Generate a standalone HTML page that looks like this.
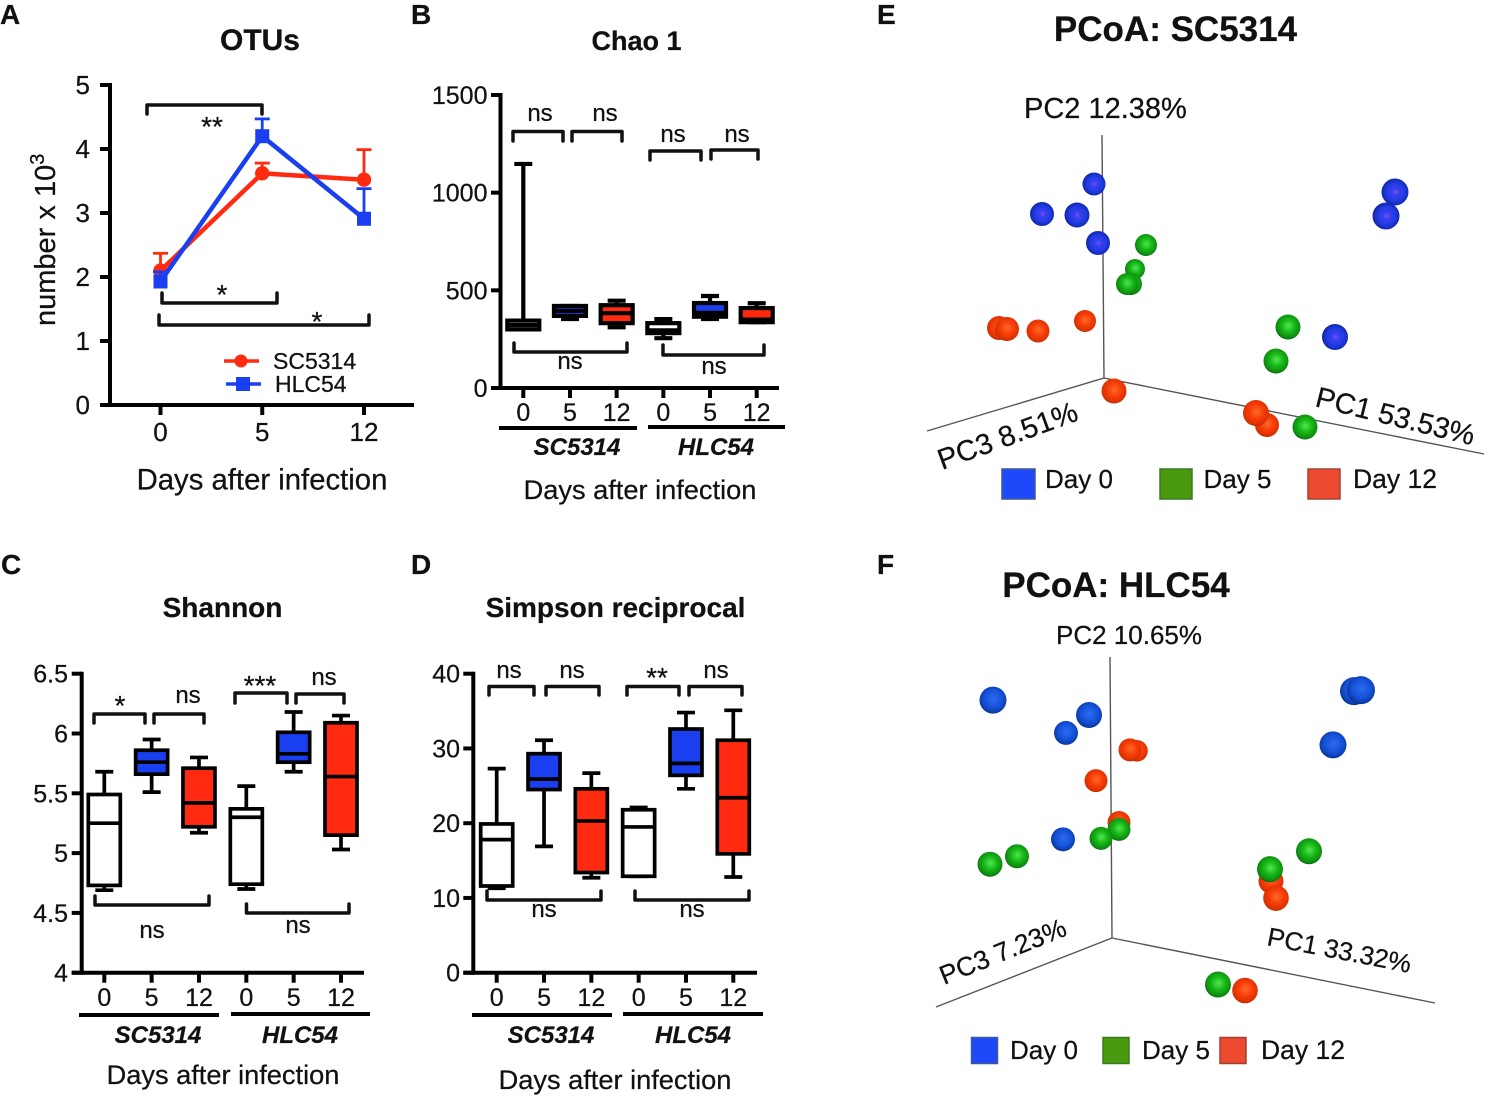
<!DOCTYPE html>
<html lang="en">
<head>
<meta charset="utf-8">
<title>Microbiome diversity panels</title>
<style>
  html, body { margin: 0; padding: 0; background: #fff; }
  svg { display: block; font-family: "Liberation Sans", sans-serif; }
  text { fill: #111; stroke: #111; stroke-width: 0.25; }
  .axis { stroke: #000; stroke-width: 4; fill: none; }
  .br { stroke: #111; stroke-width: 3.5; fill: none; stroke-linecap: round; stroke-linejoin: round; }
  .title { font-weight: bold; text-anchor: middle; }
  .letter { font-weight: bold; font-size: 28px; }
  .ns { font-size: 24px; text-anchor: middle; }
  .star { font-size: 28px; text-anchor: middle; }
  .group { font-size: 24px; font-weight: bold; font-style: italic; text-anchor: middle; }
  .xl { font-size: 27.2px; text-anchor: middle; }
  .pc { stroke: #555; stroke-width: 1.4; }
</style>
</head>
<body>
<svg id="figure" xmlns="http://www.w3.org/2000/svg" width="1493" height="1105" viewBox="0 0 1493 1105">
  <defs>
    <radialGradient id="sphere-blue-e" cx="0.52" cy="0.5" r="0.55">
      <stop offset="0" stop-color="#7a50e8"/><stop offset="0.22" stop-color="#3a40f0"/><stop offset="0.62" stop-color="#1f3ae0"/><stop offset="0.9" stop-color="#1426b0"/><stop offset="1" stop-color="#0c1460"/>
    </radialGradient>
    <radialGradient id="sphere-blue-f" cx="0.52" cy="0.45" r="0.58">
      <stop offset="0" stop-color="#2a6cf0"/><stop offset="0.6" stop-color="#1450d8"/><stop offset="0.9" stop-color="#0c3aa0"/><stop offset="1" stop-color="#082058"/>
    </radialGradient>
    <radialGradient id="sphere-green" cx="0.52" cy="0.45" r="0.58">
      <stop offset="0" stop-color="#50e850"/><stop offset="0.45" stop-color="#18b818"/><stop offset="0.85" stop-color="#0c8a10"/><stop offset="1" stop-color="#064a08"/>
    </radialGradient>
    <radialGradient id="sphere-red" cx="0.52" cy="0.45" r="0.58">
      <stop offset="0" stop-color="#ff6a28"/><stop offset="0.5" stop-color="#f63c08"/><stop offset="0.88" stop-color="#d83000"/><stop offset="1" stop-color="#802000"/>
    </radialGradient>
  </defs>

  <text class="letter" x="0" y="24">A</text>
  <text class="letter" x="411" y="24">B</text>
  <text class="letter" x="1" y="574">C</text>
  <text class="letter" x="411" y="574">D</text>
  <text class="letter" x="877" y="24">E</text>
  <text class="letter" x="877" y="574">F</text>

  <!-- Panel A -->
  <g id="panel-a">
    <text class="title" x="260" y="50" font-size="30">OTUs</text>
    <text transform="translate(55,326) rotate(-90)" font-size="29">number x 10<tspan font-size="20" dy="-11">3</tspan></text>
    <text x="262" y="489.500" font-size="29.300" text-anchor="middle">Days after infection</text>
    <path class="br" d="M147 114V105H262V114"/>
    <text class="star" x="212" y="136">**</text>
    <path class="br" d="M162 293V303H277V293"/>
    <text class="star" x="222" y="304">*</text>
    <path class="br" d="M159 315V325H369V315"/>
    <text class="star" x="317" y="331">*</text>
    <g>
      <line x1="224" y1="361" x2="259" y2="361" stroke="#ff2a10" stroke-width="3.5"/>
      <circle cx="241" cy="361" r="6.5" fill="#ff2a10"/>
      <text x="273" y="369" font-size="23">SC5314</text>
      <line x1="226" y1="384" x2="261" y2="384" stroke="#1a3ff0" stroke-width="3.5"/>
      <rect x="236" y="377" width="14" height="14" fill="#1a3ff0"/>
      <text x="275" y="392" font-size="23">HLC54</text>
    </g>
  </g>

  <!-- Panel B -->
  <g id="panel-b">
    <text class="title" x="636.500" y="50" font-size="27">Chao 1</text>
    <text class="xl" x="640" y="499">Days after infection</text>
    <line class="axis" x1="499" y1="428" x2="637" y2="428"/>
    <line class="axis" x1="648" y1="427" x2="785" y2="427"/>
    <text class="group" x="577" y="455">SC5314</text>
    <text class="group" x="716" y="455">HLC54</text>
    <path class="br" d="M513 141V131.500H563V141"/>
    <path class="br" d="M572 141V131.500H622V141"/>
    <path class="br" d="M650 160V151H701V160"/>
    <path class="br" d="M711 159V150H758V159"/>
    <path class="br" d="M514 343V352H627V343"/>
    <path class="br" d="M663 345V355H764V345"/>
    <text class="ns" x="540" y="121">ns</text>
    <text class="ns" x="605" y="121">ns</text>
    <text class="ns" x="673" y="142">ns</text>
    <text class="ns" x="737" y="142">ns</text>
    <text class="ns" x="570" y="369">ns</text>
    <text class="ns" x="714" y="374">ns</text>
  </g>

  <!-- Panel C -->
  <g id="panel-c">
    <text class="title" x="222.500" y="617" font-size="28">Shannon</text>
    <text class="xl" x="223" y="1084">Days after infection</text>
    <line class="axis" x1="79" y1="1015" x2="219" y2="1015"/>
    <line class="axis" x1="231" y1="1014" x2="370" y2="1014"/>
    <text class="group" x="158" y="1043">SC5314</text>
    <text class="group" x="300" y="1043">HLC54</text>
    <path class="br" d="M94 723V714H145V723"/>
    <path class="br" d="M154 723V714H204V723"/>
    <path class="br" d="M235 703V693H287V703"/>
    <path class="br" d="M296 703V694H344V703"/>
    <path class="br" d="M95 896V905H209V896"/>
    <path class="br" d="M246.500 904V913H349V904"/>
    <text class="star" x="120" y="715">*</text>
    <text class="star" x="260" y="695">***</text>
    <text class="ns" x="188" y="703">ns</text>
    <text class="ns" x="324" y="685">ns</text>
    <text class="ns" x="152" y="938">ns</text>
    <text class="ns" x="298" y="933">ns</text>
  </g>

  <!-- Panel D -->
  <g id="panel-d">
    <text class="title" x="615.500" y="617" font-size="28">Simpson reciprocal</text>
    <text class="xl" x="615" y="1089">Days after infection</text>
    <line class="axis" x1="472" y1="1015" x2="612" y2="1015"/>
    <line class="axis" x1="623" y1="1014" x2="763" y2="1014"/>
    <text class="group" x="551" y="1043">SC5314</text>
    <text class="group" x="693" y="1043">HLC54</text>
    <path class="br" d="M489 695V686.500H534V695"/>
    <path class="br" d="M546 695V686.500H599V695"/>
    <path class="br" d="M627 695V686.500H679V695"/>
    <path class="br" d="M689 695V686.500H742V695"/>
    <path class="br" d="M487 891V900H601V891"/>
    <path class="br" d="M635 891V900H749V891"/>
    <text class="star" x="657" y="687">**</text>
    <text class="ns" x="509" y="678">ns</text>
    <text class="ns" x="572" y="678">ns</text>
    <text class="ns" x="716" y="678">ns</text>
    <text class="ns" x="544" y="917">ns</text>
    <text class="ns" x="692" y="917">ns</text>
  </g>

  <!-- Panel E -->
  <g id="panel-e">
    <text class="title" x="1175.500" y="41" font-size="35">PCoA: SC5314</text>
    <line class="pc" x1="1102" y1="135" x2="1104" y2="378"/>
    <line class="pc" x1="1104" y1="378" x2="927" y2="431"/>
    <line class="pc" x1="1104" y1="378" x2="1484" y2="454"/>
    <text x="1024" y="118" font-size="29">PC2 12.38%</text>
    <text transform="translate(942,470) rotate(-20)" font-size="29">PC3 8.51%</text>
    <text transform="translate(1314,406) rotate(14)" font-size="29">PC1 53.53%</text>
    <g>
      <rect x="1002" y="469" width="33" height="30" fill="#1f48f8" stroke="#3a5a9a" stroke-width="1.500"/>
      <rect x="1160" y="469" width="32" height="30" fill="#4a9a10" stroke="#3a7a20" stroke-width="1.500"/>
      <rect x="1308" y="469" width="32" height="30" fill="#ee4a30" stroke="#a04030" stroke-width="1.500"/>
      <text x="1045" y="488" font-size="26">Day 0</text>
      <text x="1203.500" y="488" font-size="26">Day 5</text>
      <text x="1353" y="488" font-size="26.500">Day 12</text>
    </g>
  </g>

  <!-- Panel F -->
  <g id="panel-f">
    <text class="title" x="1116" y="597" font-size="35">PCoA: HLC54</text>
    <line class="pc" x1="1110" y1="657" x2="1112" y2="938"/>
    <line class="pc" x1="1112" y1="938" x2="936" y2="1007"/>
    <line class="pc" x1="1112" y1="938" x2="1435" y2="1003"/>
    <text x="1056" y="644" font-size="26">PC2 10.65%</text>
    <text transform="translate(944,985) rotate(-22)" font-size="26.500">PC3 7.23%</text>
    <text transform="translate(1266,945) rotate(11)" font-size="26">PC1 33.32%</text>
    <g>
      <rect x="971.500" y="1037.500" width="26" height="26" fill="#1f48f8" stroke="#3a5a9a" stroke-width="1.500"/>
      <rect x="1103" y="1037.500" width="26" height="26" fill="#4a9a10" stroke="#3a7a20" stroke-width="1.500"/>
      <rect x="1220" y="1037.500" width="26" height="26" fill="#ee4a30" stroke="#a04030" stroke-width="1.500"/>
      <text x="1010" y="1059" font-size="26">Day 0</text>
      <text x="1142" y="1059" font-size="26">Day 5</text>
      <text x="1261" y="1059" font-size="26.500">Day 12</text>
    </g>
  </g>
</svg>

<script>
/* ---------- Panel A data ---------- */
const otusDays = ["0", "5", "12"];
const otusTicks = [0, 1, 2, 3, 4, 5];
const otusSC5314 = [2.1, 3.62, 3.52];
const otusSC5314Upper = [2.37, 3.78, 3.99];
const otusHLC54 = [1.93, 4.2, 2.91];
const otusHLC54Upper = [2.08, 4.47, 3.38];

/* ---------- Box plot shared categories ---------- */
const boxDays = ["0", "5", "12", "0", "5", "12"];

/* ---------- Panel B data ---------- */
const chaoTicks = [0, 500, 1000, 1500];
const chaoHigh = [1147, 420, 447, 353, 471, 434];
const chaoQ3 = [345, 420, 424, 332, 435, 409];
const chaoMedian = [322, 395, 383, 295, 385, 350];
const chaoQ1 = [300, 369, 332, 281, 365, 337];
const chaoLow = [300, 353, 311, 255, 353, 337];

/* ---------- Panel C data ---------- */
const shannonTicks = ["4", "4.5", "5", "5.5", "6", "6.5"];
const shannonHigh = [5.68, 5.95, 5.80, 5.56, 6.18, 6.15];
const shannonQ3 = [5.49, 5.86, 5.71, 5.37, 6.01, 6.09];
const shannonMedian = [5.25, 5.76, 5.42, 5.30, 5.83, 5.64];
const shannonQ1 = [4.73, 5.66, 5.22, 4.74, 5.76, 5.15];
const shannonLow = [4.69, 5.51, 5.17, 4.70, 5.68, 5.03];

/* ---------- Panel D data ---------- */
const simpsonTicks = [0, 10, 20, 30, 40];
const simpsonHigh = [27.3, 31.1, 26.7, 22.1, 34.8, 35.1];
const simpsonQ3 = [19.9, 29.3, 24.6, 21.8, 32.6, 31.1];
const simpsonMedian = [17.8, 25.9, 20.3, 19.5, 28.0, 23.4];
const simpsonQ1 = [11.6, 24.5, 13.4, 12.9, 26.4, 15.9];
const simpsonLow = [11.3, 16.9, 12.7, 12.9, 24.6, 12.8];

/* ---------- Panel E ordination values (projected PC units; depth drives sphere size) ---------- */
const eRedH = [-52.5, -48.5, -33, -9.5, 5, 81.5, 76];
const eRedV = [25, 24.5, 23.5, 28.5, -6.5, -23.5, -17.5];
const eRedDepth = [20, 20, 15, 10, 25, 20, 30];
const eGreenH = [21, 15.5, 13.5, 11.5, 92, 86, 100.5];
const eGreenV = [66.5, 54.5, 47, 47, 25.5, 8.5, -24.5];
const eGreenDepth = [10, 0, 10, 10, 25, 25, 25];
const eBlueH = [-5, -31, -13.5, -3, 141, 145.5, 115.5];
const eBlueV = [97, 82, 81.5, 67.5, 81, 93, 20.5];
const eBlueDepth = [15, 20, 25, 20, 35, 35, 30];

/* ---------- Panel F ordination values ---------- */
const fRedH = [12.5, 9, -8, 3.5, 79.5, 82, 66.5];
const fRedV = [94, 94.5, 79, 58, 28.5, 20, -26.5];
const fRedDepth = [8, 15, 15, 15, 25, 28, 28];
const fGreenH = [3.5, -5.5, -47.5, -61, 98.5, 79, 53];
const fGreenV = [54.5, 50, 41, 37, 43.5, 34.5, -23.5];
const fGreenDepth = [15, 15, 20, 25, 30, 30, 30];
const fBlueH = [-59.5, -11.5, -23, -24.5, 121, 124.5, 110.5];
const fBlueV = [119.5, 112, 103, 49.5, 124, 124.5, 97];
const fBlueDepth = [35, 30, 20, 20, 40, 40, 35];

/* ---------- Helpers ---------- */
const SVGNS = "http://www.w3.org/2000/svg";

function add(parent, tag, attrs, name, label) {
  const el = document.createElementNS(SVGNS, tag);
  for (const key in attrs) el.setAttribute(key, attrs[key]);
  
  
  if (label !== undefined) el.textContent = label;
  parent.appendChild(el);
  return el;
}

function linear(d0, d1, r0, r1) {
  return v => r0 + (Number(v) - d0) / (d1 - d0) * (r1 - r0);
}

function drawAxes(root, y, x, cats, ticks, geo) {
  const g = add(root, "g", {}, "axes");
  add(g, "line", { class: "axis", x1: geo.axisX, y1: geo.top - 2, x2: geo.axisX, y2: geo.bottom + 2 }, "y-axis-line");
  add(g, "line", { class: "axis", x1: geo.tickLeft, y1: geo.bottom, x2: geo.axisEnd, y2: geo.bottom }, "x-axis-line");
  ticks.forEach(t => {
    add(g, "line", { class: "axis", x1: geo.tickLeft, y1: y(t), x2: geo.axisX, y2: y(t) }, "y-tick");
    add(g, "text", { x: geo.labelRight, y: y(t) + 9, "font-size": geo.tickFont, "text-anchor": "end" }, "y-tick-label", String(t));
  });
  cats.forEach((c, i) => {
    add(g, "line", { class: "axis", x1: x(i), y1: geo.bottom, x2: x(i), y2: geo.bottom + 10 }, "x-tick");
    add(g, "text", { x: x(i), y: geo.xLabelY, "font-size": geo.tickFont, "text-anchor": "middle" }, "x-tick-label", c);
  });
}

function boxFill(index) {
  const day = boxDays[index];
  if (day === "5") return "#1a3ff0";
  if (day === "12") return "#ff2a10";
  return "#ffffff";
}

function drawBoxes(root, y, x, high, q3, median, q1, low, sw) {
  const half = 16;
  const cap = 9;
  boxDays.forEach((day, i) => {
    const g = add(root, "g", {}, "box-" + (i < 3 ? "sc5314" : "hlc54") + "-day" + day);
    add(g, "line", { x1: x(i), y1: y(high[i]), x2: x(i), y2: y(q3[i]), stroke: "#000", "stroke-width": sw }, "whisker-upper");
    add(g, "line", { x1: x(i) - cap, y1: y(high[i]), x2: x(i) + cap, y2: y(high[i]), stroke: "#000", "stroke-width": sw }, "whisker-cap-upper");
    add(g, "line", { x1: x(i), y1: y(q1[i]), x2: x(i), y2: y(low[i]), stroke: "#000", "stroke-width": sw }, "whisker-lower");
    add(g, "line", { x1: x(i) - cap, y1: y(low[i]), x2: x(i) + cap, y2: y(low[i]), stroke: "#000", "stroke-width": sw }, "whisker-cap-lower");
    add(g, "rect", { x: x(i) - half, y: y(q3[i]), width: 2 * half, height: y(q1[i]) - y(q3[i]), fill: boxFill(i), stroke: "#000", "stroke-width": sw }, "box-body");
    add(g, "line", { x1: x(i) - half, y1: y(median[i]), x2: x(i) + half, y2: y(median[i]), stroke: "#000", "stroke-width": sw }, "box-median");
  });
}

function drawSeries(root, y, x, values, upper, color, marker, name) {
  const g = add(root, "g", {}, "series-" + name);
  values.forEach((v, i) => {
    add(g, "line", { x1: x(i), y1: y(v), x2: x(i), y2: y(upper[i]), stroke: color, "stroke-width": 2.8 }, "error-bar");
    add(g, "line", { x1: x(i) - 7.5, y1: y(upper[i]), x2: x(i) + 7.5, y2: y(upper[i]), stroke: color, "stroke-width": 2.8 }, "error-cap");
  });
  const pts = values.map((v, i) => x(i) + "," + y(v)).join(" ");
  add(g, "polyline", { points: pts, fill: "none", stroke: color, "stroke-width": 4.5 }, "series-line");
  values.forEach((v, i) => {
    if (marker === "circle") {
      add(g, "circle", { cx: x(i), cy: y(v), r: 7.2, fill: color }, "point");
    } else {
      add(g, "rect", { x: x(i) - 7, y: y(v) - 7, width: 14, height: 14, fill: color }, "point");
    }
  });
}

function drawSpheres(root, h, v, size, xs, ys, depth, fill, name) {
  const g = add(root, "g", {}, "points-" + name);
  xs.forEach((val, i) => {
    add(g, "circle", { cx: h(val), cy: v(ys[i]), r: size(depth[i]), fill: fill }, "sphere-" + name);
  });
}

/* ---------- Panel A ---------- */
(function () {
  const root = document.getElementById("panel-a");
  const y = linear(0, 5, 405, 85);
  const x = linear(0, 2, 160.5, 364);
  drawAxes(root, y, x, otusDays, otusTicks, { axisX: 110, top: 85, bottom: 405, tickLeft: 100, axisEnd: 414, labelRight: 90, tickFont: 26, xLabelY: 441 });
  drawSeries(root, y, x, otusSC5314, otusSC5314Upper, "#ff2a10", "circle", "sc5314");
  drawSeries(root, y, x, otusHLC54, otusHLC54Upper, "#1a3ff0", "square", "hlc54");
})();

/* ---------- Panel B ---------- */
(function () {
  const root = document.getElementById("panel-b");
  const y = linear(0, 1500, 388, 95);
  const x = linear(0, 5, 523.3, 756.7);
  drawAxes(root, y, x, boxDays, chaoTicks, { axisX: 500.5, top: 95, bottom: 388, tickLeft: 491, axisEnd: 779, labelRight: 487.5, tickFont: 25, xLabelY: 421 });
  drawBoxes(root, y, x, chaoHigh, chaoQ3, chaoMedian, chaoQ1, chaoLow, 4.2);
})();

/* ---------- Panel C ---------- */
(function () {
  const root = document.getElementById("panel-c");
  const y = linear(4, 6.5, 972.7, 673.7);
  const x = linear(0, 5, 104.3, 341);
  drawAxes(root, y, x, boxDays, shannonTicks, { axisX: 81.7, top: 673.7, bottom: 972.7, tickLeft: 71.7, axisEnd: 364, labelRight: 68, tickFont: 25, xLabelY: 1006 });
  drawBoxes(root, y, x, shannonHigh, shannonQ3, shannonMedian, shannonQ1, shannonLow, 3.7);
})();

/* ---------- Panel D ---------- */
(function () {
  const root = document.getElementById("panel-d");
  const y = linear(0, 40, 972.7, 673.7);
  const x = linear(0, 5, 496.7, 733.3);
  drawAxes(root, y, x, boxDays, simpsonTicks, { axisX: 473.3, top: 673.7, bottom: 972.7, tickLeft: 463.3, axisEnd: 757, labelRight: 460, tickFont: 25, xLabelY: 1006 });
  drawBoxes(root, y, x, simpsonHigh, simpsonQ3, simpsonMedian, simpsonQ1, simpsonLow, 3.7);
})();

/* ---------- Panels E and F ---------- */
(function () {
  const size = linear(0, 100, 10, 20);
  const e = document.getElementById("panel-e");
  const eh = linear(0, 100, 1104, 1304);
  const ev = linear(0, 100, 378, 178);
  drawSpheres(e, eh, ev, size, eRedH, eRedV, eRedDepth, "url(#sphere-red)", "day12");
  drawSpheres(e, eh, ev, size, eGreenH, eGreenV, eGreenDepth, "url(#sphere-green)", "day5");
  drawSpheres(e, eh, ev, size, eBlueH, eBlueV, eBlueDepth, "url(#sphere-blue-e)", "day0");

  const f = document.getElementById("panel-f");
  const fh = linear(0, 100, 1112, 1312);
  const fv = linear(0, 100, 937.8, 738.9);
  drawSpheres(f, fh, fv, size, fRedH, fRedV, fRedDepth, "url(#sphere-red)", "day12");
  drawSpheres(f, fh, fv, size, fGreenH, fGreenV, fGreenDepth, "url(#sphere-green)", "day5");
  drawSpheres(f, fh, fv, size, fBlueH, fBlueV, fBlueDepth, "url(#sphere-blue-f)", "day0");
})();
</script>
</body>
</html>
